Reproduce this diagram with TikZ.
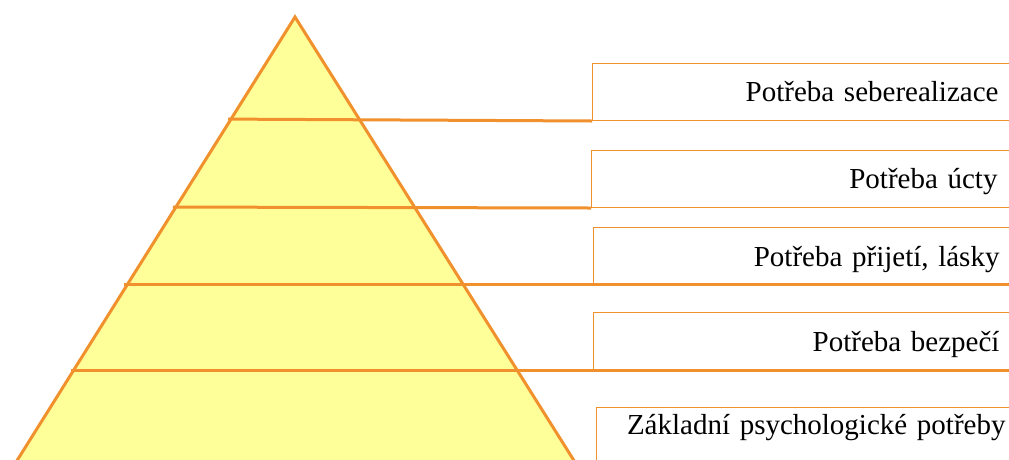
\documentclass[tikz,border=0pt]{standalone}
\usepackage{fontspec}
\setmainfont{Liberation Serif}
\usetikzlibrary{calc, positioning}
\definecolor{pyrorange}{RGB}{240,145,45}
\definecolor{pyryellow}{RGB}{255,255,153}

\begin{document}
\begin{tikzpicture}[
    x=1pt, y=-1pt,
    level/.style={draw=pyrorange, line width=3pt},
    needbox/.style={rectangle, draw=pyrorange, line width=1pt, anchor=north west,
                    text width=391pt, inner xsep=15pt, inner ysep=0pt,
                    minimum height=57pt, text height=24pt, text depth=5pt,
                    align=right, font=\fontsize{29}{34}\selectfont},
]
\clip (0,0) rectangle (1009,459);

% pyramid
\coordinate (apex) at (295,17);
\coordinate (baseL) at (18,459);
\coordinate (baseR) at (573,459);
\fill[pyryellow] (apex) -- ($(apex)!1.1!(baseR)$) -- ($(apex)!1.1!(baseL)$) -- cycle;

% level heights on the left edge
\coordinate (l1) at ($(apex)!0.231!(baseL)$);
\coordinate (l2) at ($(apex)!0.430!(baseL)$);
\coordinate (l3) at ($(apex)!0.606!(baseL)$);
\coordinate (l4) at ($(apex)!0.799!(baseL)$);

% labels
\node[needbox] (self) at (592,63) {Potřeba seberealizace};
\node[needbox] (esteem) at (591,150) {Potřeba úcty};
\node[needbox, minimum height=58pt] (love) at (593,227) {Potřeba přijetí, lásky};
\node[needbox, minimum height=58pt] (safety) at (593,312) {Potřeba bezpečí};
\node[needbox, text width=394pt, text height=27pt, text depth=60pt] (basic) at (596,407)
    {Základní psychologické potřeby};

% level lines
\draw[level, shorten <=-3pt] (l1) -- (self.south west);
\draw[level, shorten <=-3pt] (l2) -- (esteem.south west);
\draw[level, shorten <=-3pt] (l3) -- (l3 -| love.south east);
\draw[level, shorten <=-3pt] (l4) -- (l4 -| safety.south east);

% pyramid edges
\draw[level, line join=miter] ($(apex)!1.1!(baseL)$) -- (apex) -- ($(apex)!1.1!(baseR)$);
\end{tikzpicture}
\end{document}
